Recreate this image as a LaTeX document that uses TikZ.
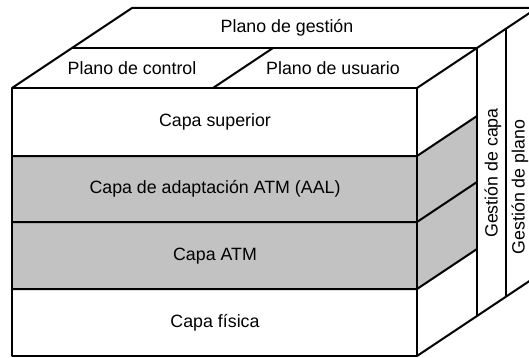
\documentclass[tikz,border=0pt]{standalone}
\usepackage{fontspec}
\setmainfont{Liberation Sans}
\usepackage{xcolor}
\definecolor{halftone}{HTML}{C2C2C2}

\begin{document}
\begin{tikzpicture}[x=0.5pt, y=-0.5pt,
  edge/.style={draw=black, line width=1pt, line join=round},
  layerfill/.style={fill=halftone},
  lbl/.style={font=\fontsize{8.9}{10}\selectfont, inner sep=0pt},
  sidelbl/.style={lbl, rotate=90}
]
\useasboundingbox (0,0) rectangle (529,358);
\clip (0,0) rectangle (529,358);

\fill[layerfill] (12,156) rectangle (417,289);
\fill[layerfill] (417,156) -- (477,116) -- (477,249) -- (417,289) -- cycle;

\draw[edge] (12,88) rectangle (417,356);
\draw[edge] (12,88) -- (132,8) -- (537,8);
\draw[edge] (417,88) -- (537,8);
\draw[edge] (417,356) -- (537,276);
\draw[edge] (72,48) -- (477,48);
\draw[edge] (213,88) -- (273,48);
\draw[edge] (477,48) -- (477,316);
\draw[edge] (506,29) -- (506,297);

\draw[edge] (12,156) -- (417,156) -- (477,116);
\draw[edge] (12,222) -- (417,222) -- (477,182);
\draw[edge] (12,289) -- (417,289) -- (477,249);

\node[lbl] (gestion) at (287,28) {Plano de gestión};
\node[lbl] (control) at (132,68) {Plano de control};
\node[lbl] (usuario) at (333,68) {Plano de usuario};

\node[lbl] (superior) at (215,122) {Capa superior};
\node[lbl] (aal) at (215,189) {Capa de adaptación ATM (AAL)};
\node[lbl] (atm) at (215,256) {Capa ATM};
\node[lbl] (fisica) at (215,323) {Capa física};

\node[sidelbl] (gcapa) at (493,173) {Gestión de capa};
\node[sidelbl] (gplano) at (520,187) {Gestión de plano};
\end{tikzpicture}
\end{document}
